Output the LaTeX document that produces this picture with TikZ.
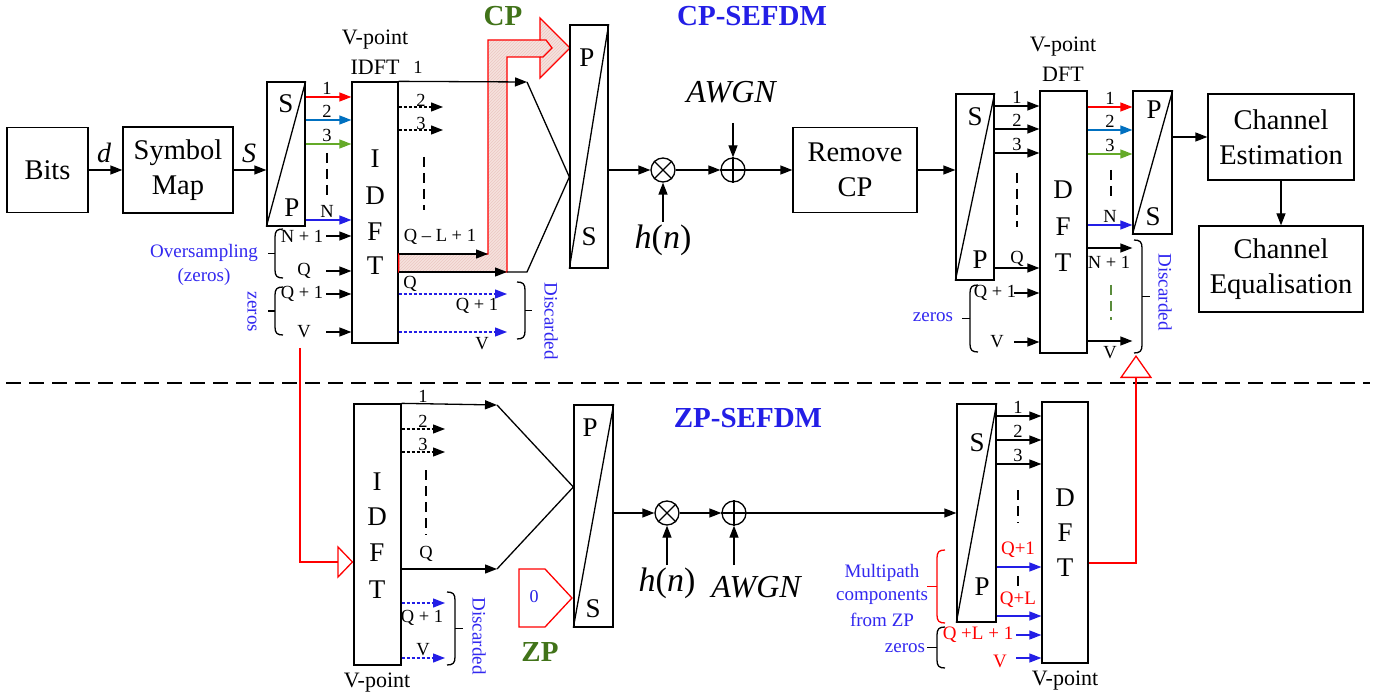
\documentclass[tikz,border=0pt]{standalone}
\usepackage{fontspec}
\setmainfont{Liberation Serif}
\usetikzlibrary{arrows.meta,patterns}
\definecolor{cred}{RGB}{255,0,0}
\definecolor{cblue}{RGB}{35,30,230}
\definecolor{oblue}{RGB}{0,112,192}
\definecolor{cgreen}{RGB}{100,170,40}
\definecolor{dgreen}{RGB}{65,115,25}
\definecolor{tblue}{RGB}{50,40,240}
\definecolor{cpfill}{RGB}{246,226,222}
\definecolor{cphatch}{RGB}{236,200,195}
\definecolor{gdash}{RGB}{90,140,60}
\newcommand{\myfs}[1]{\fontsize{#1}{#1}\selectfont}
\tikzset{
 lnw/.style={line width=1.3pt},
 box/.style={draw, line width=1.3pt, inner sep=0pt, align=center, font=\fontsize{28.5}{35}\selectfont},
 spbox/.style={draw, line width=1.3pt, inner sep=0pt},
 boxletter/.style={font=\myfs{27}, inner sep=0pt},
 lb/.style={font=\myfs{18.5}, inner sep=0pt},
 rlb/.style={font=\myfs{19}, inner sep=0pt, text=cred},
 vp/.style={font=\myfs{22}, inner sep=0pt},
 annot/.style={font=\myfs{19}, text=tblue, inner sep=0pt, align=center},
 ttl/.style={font=\myfs{29}\bfseries, inner sep=0pt},
 chan/.style={font=\myfs{32}\itshape, inner sep=0pt},
 arrw/.style={line width=1.3pt, -{Triangle[length=12pt,width=9pt]}},
 dotln/.style={dash pattern=on 3pt off 2pt},
 vdash/.style={line width=1.3pt, dash pattern=on 10pt off 6pt},
 circ/.style={circle, draw, line width=1.3pt, minimum size=24pt, inner sep=0pt},
}
\newcommand{\SPbox}[5]{\node[spbox, minimum width=#4pt, minimum height=#5pt] (#1) at (#2,#3) {};
 \draw[lnw] (#1.south west) -- (#1.north east);}
\newcommand{\hcon}[4][]{\draw[arrw,#1] (#2.east |- 0,#4) -- (#3.west |- 0,#4);}
\newcommand{\inarr}[4][]{\draw[arrw,#1] (#2.west |- 0,#3) ++(-#4,0) -- (#2.west |- 0,#3);}
\newcommand{\outarr}[4][]{\draw[arrw,#1] (#2.east |- 0,#3) -- (#4,#3);}
\newcommand{\BrL}[5][black]{%
 \draw[lnw,#1] ({#2+8},#3) .. controls ({#2+2},#3) and (#2,{#3+2}) .. (#2,{#3+8}) -- (#2,{#4-8}) .. controls (#2,{#4-2}) and ({#2+2},#4) .. ({#2+8},#4);
 \draw[lnw,#1] (#2,{(#3+#4)/2}) -- (#5,{(#3+#4)/2});}
\newcommand{\BrR}[5][black]{%
 \draw[lnw,#1] ({#2-8},#3) .. controls ({#2-2},#3) and (#2,{#3+2}) .. (#2,{#3+8}) -- (#2,{#4-8}) .. controls (#2,{#4-2}) and ({#2-2},#4) .. ({#2-8},#4);
 \draw[lnw,#1] (#2,{(#3+#4)/2}) -- (#5,{(#3+#4)/2});}
\begin{document}
\begin{tikzpicture}[x=1pt,y=-1pt]
\useasboundingbox[fill=white] (0,0) rectangle (1386,700);

% ================= TOP: CP-SEFDM =================
\node[box, minimum width=81pt, minimum height=85pt] (bits) at (47.5,170) {Bits};
\node[box, minimum width=110pt, minimum height=86pt] (sym) at (178,170) {Symbol\\Map};
\draw[arrw] (bits) -- (sym);
\node[font=\myfs{28}\itshape] (dlab) at (104,153) {d};
\SPbox{spa}{286}{154}{38}{144}
\node[boxletter] (spaS) at (286,104) {S};
\node[boxletter] (spaP) at (292,208) {P};
\draw[arrw] (sym.east) -- (sym.east -| spa.west);
\node[font=\myfs{28}\itshape] (slab) at (249,153) {S};

% IDFT top
\node[spbox, minimum width=46pt, minimum height=261pt] (idfta) at (375,212.5) {};
\node[boxletter] (ia1) at (375,159) {I};
\node[boxletter] (ia2) at (375,196) {D};
\node[boxletter] (ia3) at (375,232) {F};
\node[boxletter] (ia4) at (375,266) {T};
\node[vp] (vpa) at (375,40) {V-point};
\node[vp] (idftlab) at (375,67) {IDFT};
\node[lb] (o1a) at (418,67) {1};

% inputs to IDFT top
\hcon[color=cred]{spa}{idfta}{97}
\hcon[color=oblue]{spa}{idfta}{120}
\hcon[color=cgreen]{spa}{idfta}{144}
\hcon[color=cblue]{spa}{idfta}{220}
\node[lb] (ia1l) at (327,88) {1};
\node[lb] (ia2l) at (327,111) {2};
\node[lb] (ia3l) at (327,135) {3};
\node[lb] (iaNl) at (327,211) {N};
\draw[vdash] (327,153) -- (327,197);
\inarr{idfta}{236}{25}
\inarr{idfta}{271}{25}
\inarr{idfta}{294}{25}
\inarr{idfta}{332}{25}
\node[lb] (n1l) at (302,236) {N + 1};
\node[lb] (qla) at (304,271) {Q};
\node[lb] (q1la) at (302,294) {Q + 1};
\node[lb] (vla) at (304,332) {V};
\BrL{275}{229}{278}{268}
\BrL{275}{287}{335}{268}
\node[annot] (ovs) at (204,253) {Oversampling};
\node[annot] (ovz) at (204,277) {(zeros)};
\node[annot, rotate=-90] (zra) at (252,312) {zeros};

% CP arrow shape
\path[fill=cpfill] (idfta.east |- 0,254) -- (488,254) -- (488,40) -- (540,40) -- (540,18) -- (570,48) -- (540,78) -- (540,57) -- (507,57) -- (507,272) -- (idfta.east |- 0,272) -- cycle;
\path[pattern=north east lines, pattern color=cphatch] (idfta.east |- 0,254) -- (488,254) -- (488,40) -- (540,40) -- (540,18) -- (570,48) -- (540,78) -- (540,57) -- (507,57) -- (507,272) -- (idfta.east |- 0,272) -- cycle;
\draw[cred, line width=1.3pt] (idfta.east |- 0,254) -- (488,254) -- (488,40) -- (540,40) -- (540,18) -- (570,48) -- (540,78) -- (540,57) -- (507,57) -- (507,272) -- (idfta.east |- 0,272) -- cycle;
\draw[cred, line width=1.3pt] (540,40) -- (546,40) -- (552,48) -- (543,57) -- (540,57);
\node[ttl, text=dgreen] (cplab) at (503,16) {CP};
\node[ttl, text=cblue] (cpsefdm) at (752,16) {CP-SEFDM};

% P/S top
\SPbox{spb}{589}{146.5}{38}{243}
\node[boxletter] (spbP) at (587,58) {P};
\node[boxletter] (spbS) at (589,237) {S};

% IDFT top outputs
\draw[arrw] (idfta.north east) -- (527,82);
\draw[lnw] (527,82) -- (spb.west |- 0,177);
\outarr[dotln]{idfta}{107}{443}
\outarr[dotln]{idfta}{130}{443}
\node[lb] (oa2) at (421,100) {2};
\node[lb] (oa3) at (421,123) {3};
\draw[vdash] (424,157) -- (424,210);
\outarr{idfta}{254}{488}
\node[lb] (qlla) at (440,237) {Q -- L + 1};
\draw[arrw] (idfta.east |- 0,272) -- (507,272);
\draw[lnw] (507,272) -- (527,272) -- (spb.west |- 0,177);
\node[lb] (oaq) at (410,284) {Q};
\outarr[dotln,color=cblue]{idfta}{294}{507}
\outarr[dotln,color=cblue]{idfta}{332}{507}
\node[lb] (oaq1) at (477,306) {Q + 1};
\node[lb] (oav) at (482,344) {V};
\BrR{525}{282}{339}{532}
\node[annot, rotate=-90] (disa) at (551,321) {Discarded};

% channel top
\node[circ] (mula) at (663,170) {};
\draw[lnw] (mula.north east) -- (mula.south west) (mula.north west) -- (mula.south east);
\node[circ] (plusa) at (733,170) {};
\draw[lnw] (plusa.north) -- (plusa.south) (plusa.west) -- (plusa.east);
\node[box, minimum width=124pt, minimum height=85pt] (rcp) at (855,170) {Remove\\CP};
\draw[arrw] (spb.east |- mula) -- (mula);
\draw[arrw] (mula) -- (plusa);
\draw[arrw] (plusa) -- (rcp);
\node[chan] (awgna) at (731,92) {AWGN};
\coordinate (awa) at (733,123);
\draw[arrw] (awa) -- (plusa.north);
\node[font=\myfs{34}, inner sep=0pt] (hna) at (663,240) {\textit{h}(\textit{n})};
\coordinate (hha) at (663,222);
\draw[arrw] (hha) -- (mula.south);

% receiver top
\SPbox{spc}{975}{187}{38}{186}
\node[boxletter] (spcS) at (975,117) {S};
\node[boxletter] (spcP) at (980,260) {P};
\draw[arrw] (rcp.east) -- (rcp.east -| spc.west);
\node[spbox, minimum width=47pt, minimum height=262pt] (dfta) at (1063.5,222) {};
\node[boxletter] (da1) at (1063,190) {D};
\node[boxletter] (da2) at (1063,227) {F};
\node[boxletter] (da3) at (1063,263) {T};
\node[vp] (vpb) at (1063,47) {V-point};
\node[vp] (dftlab) at (1063,74) {DFT};
\hcon{spc}{dfta}{106}
\hcon{spc}{dfta}{129}
\hcon{spc}{dfta}{153}
\hcon{spc}{dfta}{268}
\node[lb] (dia1) at (1017,97) {1};
\node[lb] (dia2) at (1017,120) {2};
\node[lb] (dia3) at (1017,144) {3};
\node[lb] (diaq) at (1017,259) {Q};
\draw[vdash] (1017,173) -- (1017,227);
\inarr{dfta}{293}{25}
\inarr{dfta}{342}{25}
\node[lb] (diaq1) at (995,293) {Q + 1};
\node[lb] (diav) at (997,342) {V};
\BrL{970}{285}{352}{962}
\node[annot] (zrb) at (933,317) {zeros};

\SPbox{spd}{1152.5}{162.5}{39}{143}
\node[boxletter] (spdP) at (1154,110) {P};
\node[boxletter] (spdS) at (1153,217) {S};
\hcon[color=cred]{dfta}{spd}{107}
\hcon[color=oblue]{dfta}{spd}{130}
\hcon[color=cgreen]{dfta}{spd}{154}
\hcon[color=cblue]{dfta}{spd}{225}
\hcon{dfta}{spd}{248}
\hcon{dfta}{spd}{341}
\node[lb] (doa1) at (1110,98) {1};
\node[lb] (doa2) at (1110,121) {2};
\node[lb] (doa3) at (1110,145) {3};
\node[lb] (doaN) at (1110,216) {N};
\node[lb] (doaN1) at (1109,262) {N + 1};
\node[lb] (doaV) at (1110,353) {V};
\draw[vdash] (1111,170) -- (1111,202);
\draw[vdash, color=gdash] (1111,285) -- (1111,320);
\BrR{1142}{240}{353}{1150}
\node[annot, rotate=-90] (disb) at (1165,292) {Discarded};

\node[box, minimum width=146pt, minimum height=86pt] (che) at (1281,137) {Channel\\Estimation};
\node[box, minimum width=164pt, minimum height=86pt] (cheq) at (1281,269) {Channel\\Equalisation};
\draw[arrw] (spd.east |- che) -- (che);
\draw[arrw] (che) -- (cheq);

% separator
\draw[line width=1.3pt, dash pattern=on 15pt off 8pt] (6,383) -- (1370,383);

% ================= BOTTOM: ZP-SEFDM =================
\node[spbox, minimum width=47pt, minimum height=261pt] (idftb) at (377.5,534.5) {};
\node[boxletter] (ib1) at (377,482) {I};
\node[boxletter] (ib2) at (377,517) {D};
\node[boxletter] (ib3) at (377,553) {F};
\node[boxletter] (ib4) at (377,590) {T};
\node[vp] (vpc) at (377,683) {V-point};
\coordinate (rtop) at (300,348);
\draw[cred, line width=1.3pt, -{Triangle[open, length=16pt, width=33pt]}] (rtop) -- (300,562) -- (idftb.west |- 0,562);

\SPbox{spe}{593.5}{516}{39}{222}
\node[boxletter] (speP) at (590,428) {P};
\node[boxletter] (speS) at (593,609) {S};
\draw[arrw] (idftb.north east) -- (497,405);
\draw[lnw] (497,405) -- (spe.west |- 0,487);
\draw[arrw] (idftb.east |- 0,569) -- (497,569);
\draw[lnw] (497,569) -- (spe.west |- 0,487);
\node[lb] (ob1) at (423,396) {1};
\outarr[dotln]{idftb}{429}{445}
\outarr[dotln]{idftb}{452}{445}
\node[lb] (ob2) at (423,421) {2};
\node[lb] (ob3) at (423,444) {3};
\draw[vdash] (426,470) -- (426,535);
\node[lb] (obq) at (426,554) {Q};
\outarr[dotln,color=cblue]{idftb}{603}{445}
\outarr[dotln,color=cblue]{idftb}{658}{445}
\node[lb] (obq1) at (422,618) {Q + 1};
\node[lb] (obv) at (423,650) {V};
\BrR{455}{592}{665}{463}
\node[annot, rotate=-90] (disc) at (479,636) {Discarded};

\draw[cred, line width=1.3pt] (519,569) -- (545,569) -- (572,598) -- (545,627) -- (519,627) -- cycle;
\node[font=\myfs{18}, text=cblue] (zero) at (534,597) {0};
\node[ttl, text=dgreen] (zplab) at (540,652) {ZP};
\node[ttl, text=cblue] (zpsefdm) at (748,418) {ZP-SEFDM};

\node[circ] (mulb) at (667,513) {};
\draw[lnw] (mulb.north east) -- (mulb.south west) (mulb.north west) -- (mulb.south east);
\node[circ] (plusb) at (734,513) {};
\draw[lnw] (plusb.north) -- (plusb.south) (plusb.west) -- (plusb.east);
\draw[arrw] (spe.east |- mulb) -- (mulb);
\draw[arrw] (mulb) -- (plusb);
\node[font=\myfs{34}, inner sep=0pt] (hnb) at (667,583) {\textit{h}(\textit{n})};
\node[chan] (awgnb) at (756,587) {AWGN};
\coordinate (hhb) at (667,565);
\coordinate (awb) at (734,565);
\draw[arrw] (hhb) -- (mulb.south);
\draw[arrw] (awb) -- (plusb.south);

\SPbox{spf}{976.5}{513}{39}{218}
\node[boxletter] (spfS) at (977,443) {S};
\node[boxletter] (spfP) at (982,587) {P};
\draw[arrw] (plusb) -- (plusb -| spf.west);
\node[spbox, minimum width=46pt, minimum height=261pt] (dftb) at (1065,532.5) {};
\node[boxletter] (db1) at (1065,498) {D};
\node[boxletter] (db2) at (1065,533) {F};
\node[boxletter] (db3) at (1065,568) {T};
\node[vp] (vpd) at (1065,681) {V-point};
\hcon{spf}{dftb}{416}
\hcon{spf}{dftb}{440}
\hcon{spf}{dftb}{464}
\node[lb] (dib1) at (1018,407) {1};
\node[lb] (dib2) at (1018,431) {2};
\node[lb] (dib3) at (1018,455) {3};
\draw[vdash] (1018,490) -- (1018,523);
\hcon[color=cblue]{spf}{dftb}{567}
\hcon[color=cblue]{spf}{dftb}{616}
\draw[vdash] (1018,576) -- (1018,590);
\node[rlb] (dibq1) at (1018,550) {Q+1};
\node[rlb] (dibql) at (1018,600) {Q+L};
\inarr[color=cblue]{dftb}{635}{25}
\inarr[color=cblue]{dftb}{658}{25}
\node[rlb] (dibql1) at (978,635) {Q +L + 1};
\node[rlb] (dibv) at (1000,661) {V};
\BrL[cred]{937}{550}{623}{927}
\BrL{937}{627}{668}{927}
\node[annot] (mp1) at (882,573) {Multipath};
\node[annot] (mp2) at (882,597) {components};
\node[annot] (mp3) at (882,620) {from ZP};
\node[annot] (zrc) at (905,648) {zeros};
\draw[cred, line width=1.3pt, -{Triangle[open, length=23pt, width=32pt]}] (dftb.east |- 0,563) -- (1136,563) -- (1136,355);
\end{tikzpicture}
\end{document}
